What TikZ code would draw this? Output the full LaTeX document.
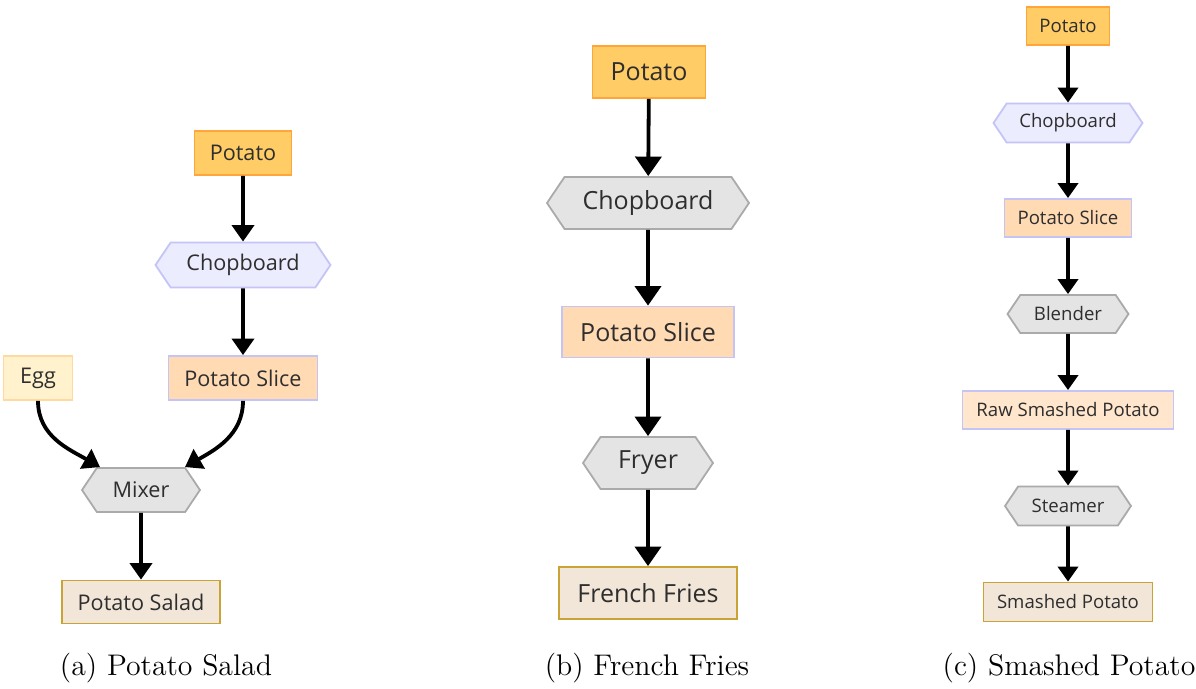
\documentclass[tikz,border=0pt]{standalone}
\usepackage{fontspec}
\newfontfamily\nodefont{Open Sans}
\usetikzlibrary{shapes.symbols,arrows.meta}

\definecolor{txtgray}{HTML}{2E2E2E}
\definecolor{potfill}{HTML}{FFCC66}
\definecolor{potline}{HTML}{FFA53A}
\definecolor{toolfill}{HTML}{ECECFF}
\definecolor{toolline}{HTML}{C4C4F6}
\definecolor{grayfill}{HTML}{E4E4E4}
\definecolor{grayline}{HTML}{AAAAAA}
\definecolor{slicefill}{HTML}{FFDAB3}
\definecolor{rawfill}{HTML}{FFE6CC}
\definecolor{eggfill}{HTML}{FFF2CC}
\definecolor{eggline}{HTML}{FFD9A0}
\definecolor{dishfill}{HTML}{F2E6D9}
\definecolor{dishline}{HTML}{C9A335}

\tikzset{
  item/.style={rectangle, draw, line width=0.9pt, inner sep=0pt, text=txtgray},
  tool/.style={signal, signal to=west and east, signal pointer angle=112, draw,
    line width=0.9pt, inner sep=0pt, text=txtgray},
  potato/.style={item, fill=potfill, draw=potline},
  slice/.style={item, fill=slicefill, draw=toolline},
  rawmash/.style={item, fill=rawfill, draw=toolline},
  egg/.style={item, fill=eggfill, draw=eggline},
  dish/.style={item, fill=dishfill, draw=dishline},
  board/.style={tool, fill=toolfill, draw=toolline},
  machine/.style={tool, fill=grayfill, draw=grayline},
  flow/.style={-{Triangle[length=#1*0.75,width=#1]}, line width=1.9pt},
  flow/.default=11pt,
  caption/.style={font=\fontsize{14.9}{17}\selectfont}
}

\begin{document}
\begin{tikzpicture}[x=0.5pt,y=-0.5pt]
  \useasboundingbox (0,0) rectangle (1196,689);

  % (a) potato salad
  \begin{scope}[every node/.append style={font=\nodefont\fontsize{10.8}{12}\selectfont}]
    \node[potato, minimum width=48.5pt, minimum height=22pt] (apot) at (243,153) {Potato};
    \node[board, minimum width=87.5pt, minimum height=22.5pt] (achop) at (243,265) {Chopboard};
    \node[egg, minimum width=34.5pt, minimum height=22pt] (aegg) at (38,378) {Egg};
    \node[slice, minimum width=74.5pt, minimum height=22pt] (aslice) at (243,378) {Potato Slice};
    \node[machine, minimum width=59pt, minimum height=22pt] (amix) at (141,490) {Mixer};
    \node[dish, minimum width=79pt, minimum height=21.5pt] (asalad) at (141,602) {Potato Salad};
  \end{scope}
  \draw[flow] (apot) -- (achop);
  \draw[flow] (achop) -- (aslice);
  \draw[flow] (aegg.south) to[out=-90,in=150] ([xshift=-20.5pt]amix.north);
  \draw[flow] (aslice.south) to[out=-90,in=30] ([xshift=22pt]amix.north);
  \draw[flow] (amix) -- (asalad);
  \node[caption] (capa) at (166,668) {(a) Potato Salad};

  % (b) french fries
  \begin{scope}[every node/.append style={font=\nodefont\fontsize{12.5}{14}\selectfont}]
    \node[potato, minimum width=56.5pt, minimum height=26pt] (bpot) at (649,72) {Potato};
    \node[machine, minimum width=101pt, minimum height=26pt] (bchop) at (648,203) {Chopboard};
    \node[slice, minimum width=86pt, minimum height=25.5pt] (bslice) at (648,332) {Potato Slice};
    \node[machine, minimum width=65pt, minimum height=26pt] (bfry) at (648,463) {Fryer};
    \node[dish, minimum width=89pt, minimum height=26pt] (bfries) at (648,593) {French Fries};
  \end{scope}
  \foreach \a/\b in {bpot/bchop, bchop/bslice, bslice/bfry, bfry/bfries}
    \draw[flow=13pt] (\a) -- (\b);
  \node[caption] (capb) at (647,668) {(b) French Fries};

  % (c) smashed potato
  \begin{scope}[every node/.append style={font=\nodefont\fontsize{9.3}{11}\selectfont}]
    \node[potato, minimum width=41.5pt, minimum height=19pt] (cpot) at (1068,26) {Potato};
    \node[board, minimum width=74.5pt, minimum height=19.5pt] (cchop) at (1068,123) {Chopboard};
    \node[slice, minimum width=63.5pt, minimum height=19pt] (cslice) at (1068,218) {Potato Slice};
    \node[machine, minimum width=60.5pt, minimum height=19pt] (cblend) at (1068,314) {Blender};
    \node[rawmash, minimum width=105.5pt, minimum height=19pt] (craw) at (1068,410) {Raw Smashed Potato};
    \node[machine, minimum width=63pt, minimum height=19.5pt] (csteam) at (1068,506) {Steamer};
    \node[dish, minimum width=84.5pt, minimum height=19.5pt] (cmash) at (1068,602) {Smashed Potato};
  \end{scope}
  \foreach \a/\b in {cpot/cchop, cchop/cslice, cslice/cblend, cblend/craw, craw/csteam, csteam/cmash}
    \draw[flow=10pt] (\a) -- (\b);
  \node[caption] (capc) at (1069,668) {(c) Smashed Potato};
\end{tikzpicture}
\end{document}
